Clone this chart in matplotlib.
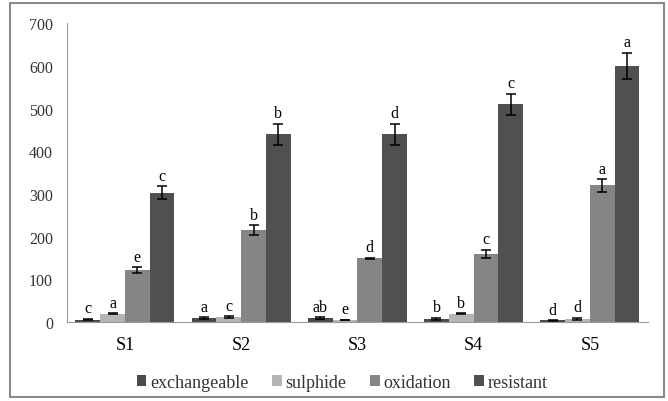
import matplotlib.pyplot as plt
import numpy as np
from matplotlib.patches import Rectangle

plt.rcParams["font.family"] = ["Liberation Serif", "DejaVu Serif"]

sites = ["S1", "S2", "S3", "S4", "S5"]
fractions = ["exchangeable", "sulphide", "oxidation", "resistant"]

exchangeable = [6, 10, 10, 8, 4]
sulphide = [20, 12, 5, 20, 8]
oxidation = [122, 215, 150, 160, 320]
resistant = [303, 440, 440, 510, 600]

exchangeable_err = [2, 2, 2, 2, 1]
sulphide_err = [1, 2, 1, 1, 2]
oxidation_err = [7, 12, 1, 10, 15]
resistant_err = [15, 25, 25, 25, 30]

exchangeable_lbl = ["c", "a", "ab", "b", "d"]
sulphide_lbl = ["a", "c", "e", "b", "d"]
oxidation_lbl = ["e", "b", "d", "c", "a"]
resistant_lbl = ["c", "b", "d", "c", "a"]

colors = ["#4a4a4a", "#b4b4b4", "#858585", "#505050"]

values = [exchangeable, sulphide, oxidation, resistant]
errors = [exchangeable_err, sulphide_err, oxidation_err, resistant_err]
letters = [exchangeable_lbl, sulphide_lbl, oxidation_lbl, resistant_lbl]

fig = plt.figure(figsize=(6.68, 4.02), dpi=100)
ax = fig.add_axes([0.100, 0.196, 0.870, 0.744])

x = np.arange(len(sites))
w = 0.213
for i, name in enumerate(fractions):
    pos = x + (i - 1.5) * w
    ax.bar(pos, values[i], width=w, color=colors[i], label=name,
           yerr=errors[i], capsize=3.5,
           error_kw={"elinewidth": 1.1, "capthick": 1.1, "ecolor": "black"})
    for p, v, e, t in zip(pos, values[i], errors[i], letters[i]):
        ax.text(p, v + e + 6, t, ha="center", va="bottom", fontsize=11.5)

ax.set_xlim(-0.5, len(sites) - 0.5)
ax.set_ylim(0, 700)
ax.set_yticks(np.arange(0, 701, 100))
ax.set_xticks(x)
ax.set_xticklabels(sites, fontsize=13)
ax.tick_params(axis="y", length=0, labelsize=11.5, pad=10, colors="#333333")
ax.tick_params(axis="x", length=0, pad=10)
for side in ["top", "right"]:
    ax.spines[side].set_visible(False)
for side in ["left", "bottom"]:
    ax.spines[side].set_color("#9a9a9a")

ax.legend(loc="center", bbox_to_anchor=(0.474, -0.20), ncol=4,
          frameon=False, fontsize=13, handlelength=0.55, handleheight=0.55,
          handletextpad=0.2, columnspacing=1.3, labelcolor="#333333")

fig.patches.append(Rectangle((10 / 668, 4 / 402), 654 / 668, 394 / 402,
                             transform=fig.transFigure, fill=False,
                             edgecolor="#8a8a8a", linewidth=1.5))

fig.savefig("out.png", dpi=100)
